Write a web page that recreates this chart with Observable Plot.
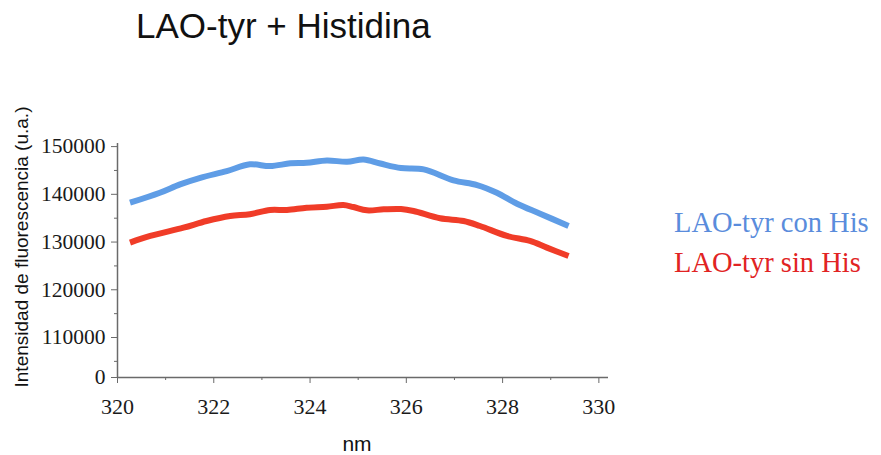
<!DOCTYPE html>
<html>
<head>
<meta charset="utf-8">
<script src="https://cdn.jsdelivr.net/npm/d3@7"></script>
<script src="https://cdn.jsdelivr.net/npm/@observablehq/plot@0.6"></script>
<style>
  html, body { margin: 0; padding: 0; background: #fff; }
  #wrap { position: relative; width: 881px; height: 455px; overflow: hidden; }
  #wrap svg { position: absolute; left: 0; top: 0; }
  .title { position: absolute; left: 136px; top: 6px; font: 35px "Liberation Sans", Arial, sans-serif; line-height: 40px; color: #111; white-space: nowrap; }
  .legend { position: absolute; left: 674px; font: 28.5px "Liberation Serif", serif; line-height: 34px; white-space: nowrap; }
  .ylab { position: absolute; left: 22px; top: 247px; transform: translate(-50%, -50%) rotate(-90deg); font: 19px "Liberation Sans", Arial, sans-serif; color: #111; white-space: nowrap; }
  .xlab { position: absolute; left: 357px; top: 444px; transform: translate(-50%, -50%); font: 21px "Liberation Sans", Arial, sans-serif; color: #111; }
</style>
</head>
<body>
<div id="wrap"></div>
<script>
// Emission spectra of LAO-tyr with and without histidine
const nmCon = [320.26, 320.88, 321.30, 321.72, 322.27, 322.75, 323.17, 323.59, 323.93, 324.35, 324.77, 325.11, 325.46, 325.89, 326.36, 326.98, 327.47, 327.88, 328.30, 328.78, 329.37];
const conHis = [138240, 140330, 142090, 143470, 144870, 146280, 145920, 146490, 146610, 147110, 146820, 147320, 146450, 145500, 145230, 142930, 141950, 140330, 138030, 135940, 133370];

const nmSin = [320.26, 320.68, 321.37, 321.85, 322.34, 322.75, 323.17, 323.52, 323.93, 324.35, 324.69, 324.90, 325.18, 325.53, 325.89, 326.15, 326.70, 327.19, 327.53, 328.09, 328.57, 328.92, 329.37];
const sinHis = [129880, 131280, 133010, 134410, 135460, 135820, 136720, 136720, 137200, 137410, 137760, 137340, 136650, 136860, 136920, 136510, 134980, 134410, 133370, 131280, 130230, 128830, 127090];

const seriesNames = ["LAO-tyr con His", "LAO-tyr sin His"];
const seriesColors = ["#5f9de6", "#f03c28"];
const legendColors = ["#5a8cdc", "#e12323"];

// The value axis is broken: its foot is labelled 0
const yFoot = 101620;
const yTop = 150650;
const yMajor = [yFoot, 110000, 120000, 130000, 140000, 150000];
const yMinor = [105000, 115000, 125000, 135000, 145000];
const xMajor = [320, 322, 324, 326, 328, 330];
const xMinor = [321, 323, 325, 327, 329];

const rows = [
  ...nmCon.map((x, i) => ({nm: x, v: conHis[i], s: seriesNames[0]})),
  ...nmSin.map((x, i) => ({nm: x, v: sinHis[i], s: seriesNames[1]}))
];

const axisColor = "#6a6a6a";
const chart = Plot.plot({
  width: 881,
  height: 455,
  marginLeft: 117,
  marginRight: 273,
  marginTop: 143,
  marginBottom: 78,
  style: {fontFamily: "'Liberation Serif', serif", fontSize: "21.5px", color: "#1a1a1a", background: "transparent"},
  x: {domain: [320, 330.2], label: null},
  y: {domain: [yFoot, yTop], label: null},
  color: {domain: seriesNames, range: seriesColors},
  marks: [
    Plot.ruleX([320], {stroke: axisColor, strokeWidth: 1.5}),
    Plot.ruleY([yFoot], {stroke: axisColor, strokeWidth: 1.5}),
    Plot.axisY(yMajor, {tickSize: 6, tickPadding: 6, stroke: axisColor, tickFormat: d => d === yFoot ? "0" : String(d), label: null}),
    Plot.axisY(yMinor, {tickSize: 3, stroke: axisColor, tickFormat: () => "", label: null}),
    Plot.axisX(xMajor, {tickSize: 6, tickPadding: 15, stroke: axisColor, fontSize: 22, tickFormat: d => String(d), label: null}),
    Plot.axisX(xMinor, {tickSize: 3, stroke: axisColor, tickFormat: () => "", label: null}),
    Plot.line(rows, {x: "nm", y: "v", z: "s", stroke: "s", strokeWidth: 6, curve: "catmull-rom", strokeLinecap: "butt"})
  ]
});

const wrap = document.getElementById("wrap");
wrap.appendChild(chart);

const title = document.createElement("div");
title.className = "title";
title.textContent = "LAO-tyr + Histidina";
wrap.appendChild(title);

seriesNames.forEach((name, i) => {
  const el = document.createElement("div");
  el.className = "legend";
  el.style.top = (206 + i * 40) + "px";
  el.style.color = legendColors[i];
  el.textContent = name;
  wrap.appendChild(el);
});

const ylab = document.createElement("div");
ylab.className = "ylab";
ylab.textContent = "Intensidad de fluorescencia (u.a.)";
wrap.appendChild(ylab);

const xlab = document.createElement("div");
xlab.className = "xlab";
xlab.textContent = "nm";
wrap.appendChild(xlab);
</script>
</body>
</html>
